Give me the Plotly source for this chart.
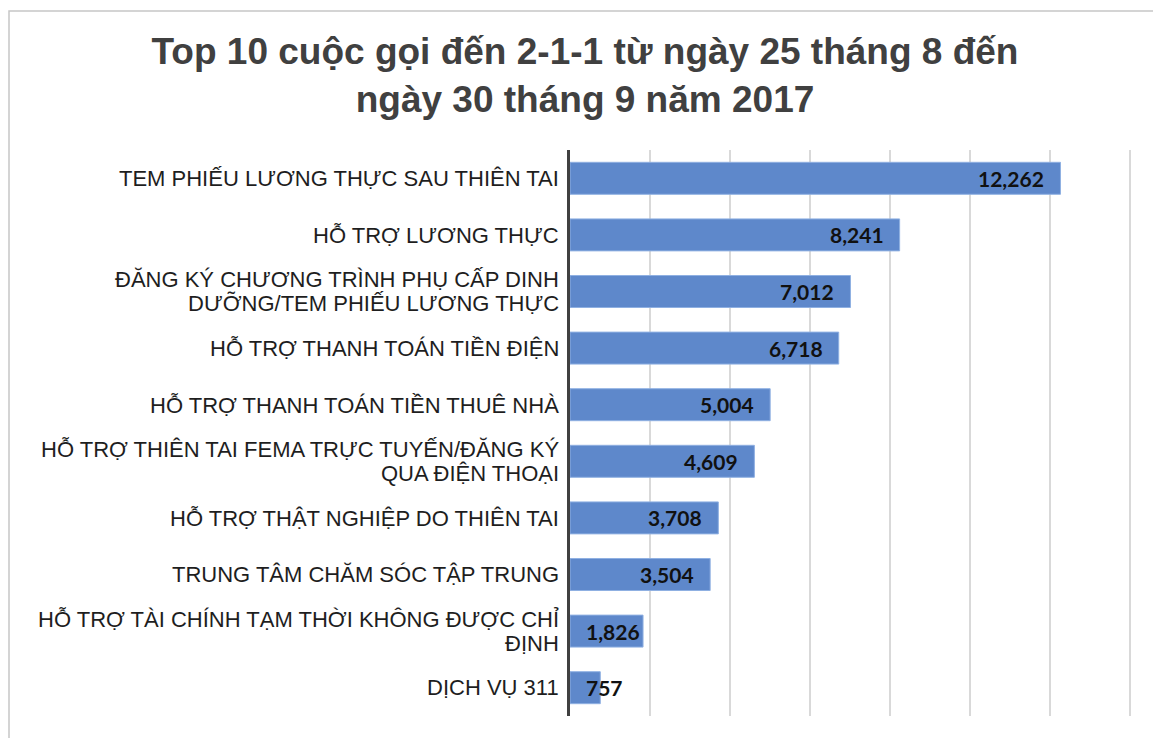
import plotly.graph_objects as go

# Top 10 call categories to 2-1-1 (25 Aug - 30 Sep 2017)
categories = [
    "TEM PHIẾU LƯƠNG THỰC SAU THIÊN TAI",
    "HỖ TRỢ LƯƠNG THỰC",
    "ĐĂNG KÝ CHƯƠNG TRÌNH PHỤ CẤP DINH\nDƯỠNG/TEM PHIẾU LƯƠNG THỰC",
    "HỖ TRỢ THANH TOÁN TIỀN ĐIỆN",
    "HỖ TRỢ THANH TOÁN TIỀN THUÊ NHÀ",
    "HỖ TRỢ THIÊN TAI FEMA TRỰC TUYẾN/ĐĂNG KÝ\nQUA ĐIỆN THOẠI",
    "HỖ TRỢ THẬT NGHIỆP DO THIÊN TAI",
    "TRUNG TÂM CHĂM SÓC TẬP TRUNG",
    "HỖ TRỢ TÀI CHÍNH TẠM THỜI KHÔNG ĐƯỢC CHỈ\nĐỊNH",
    "DỊCH VỤ 311",
]
calls = [12262, 8241, 7012, 6718, 5004, 4609, 3708, 3504, 1826, 757]

title_text = "Top 10 cuộc gọi đến 2-1-1 từ ngày 25 tháng 8 đến<br>ngày 30 tháng 9 năm 2017"

X_MAX = 14000
X_PAD = 75  # keeps the last gridline inside the range
W, H = 1153, 738
M_L, M_T, M_B = 570, 150, 22
plot_w = 560 * (X_MAX + X_PAD) / X_MAX
M_R = W - M_L - plot_w

ids = list(range(len(categories)))

fig = go.Figure(
    go.Bar(
        x=calls,
        y=ids,
        orientation="h",
        marker=dict(color="#5E88CB", line=dict(color="#8FB0E2", width=1)),
        hoverinfo="skip",
    )
)

annotations = []

# category labels, one annotation per text line (tight line spacing)
LINE_H = 24
for i, cat in enumerate(categories):
    lines = cat.split("\n")
    n = len(lines)
    for j, line in enumerate(lines):
        annotations.append(dict(
            x=0, xref="paper", y=i, yref="y",
            text=line, showarrow=False,
            xanchor="right", yanchor="middle",
            xshift=-9, yshift=((n - 1) / 2 - j) * LINE_H,
            font=dict(family="Liberation Sans, Arial", size=22, color="#1e1e1e"),
        ))

# value labels inside the bar end; short bars start the label at the axis
for i, v in enumerate(calls):
    label = f"{v:,}"
    bar_px = v / X_MAX * 560
    text_px = len(label) * 11.5
    if bar_px < text_px + 20:
        annotations.append(dict(
            x=0, xref="x", y=i, yref="y", text=f"<b>{label}</b>", showarrow=False,
            xanchor="left", yanchor="middle", xshift=14,
            font=dict(family="Lato", size=21, color="#111111"),
        ))
    else:
        annotations.append(dict(
            x=v, xref="x", y=i, yref="y", text=f"<b>{label}</b>", showarrow=False,
            xanchor="right", yanchor="middle", xshift=-14,
            font=dict(family="Lato", size=21, color="#111111"),
        ))

# outer chart border
shapes = [dict(
    type="rect", xref="paper", yref="paper",
    x0=(9 - M_L) / plot_w, x1=(1165 - M_L) / plot_w,
    y0=(H - M_B - 760) / (H - M_T - M_B), y1=(H - M_B - 11) / (H - M_T - M_B),
    line=dict(color="#C6C6C6", width=1.5), layer="below",
)]

fig.update_layout(
    width=W, height=H,
    margin=dict(l=M_L, r=M_R, t=M_T, b=M_B),
    paper_bgcolor="white", plot_bgcolor="white",
    bargap=0.435,
    showlegend=False,
    title=dict(
        text=title_text,
        x=585 / W, xanchor="center", xref="container",
        y=1 - 64 / H, yanchor="top", yref="container",
        font=dict(family="Liberation Sans, Arial", size=37, color="#404040", weight="bold"),
    ),
    xaxis=dict(
        range=[0, X_MAX + X_PAD], tick0=0, dtick=2000, showticklabels=False,
        showgrid=True, gridcolor="#D9D9D9", gridwidth=1.5,
        zeroline=False, showline=False, fixedrange=True,
    ),
    yaxis=dict(
        range=[len(categories) - 0.5, -0.5],
        showticklabels=False, showgrid=False, zeroline=False,
        showline=True, linecolor="#404040", linewidth=3,
        fixedrange=True,
    ),
    annotations=annotations,
    shapes=shapes,
)

fig.write_html("out.html")
